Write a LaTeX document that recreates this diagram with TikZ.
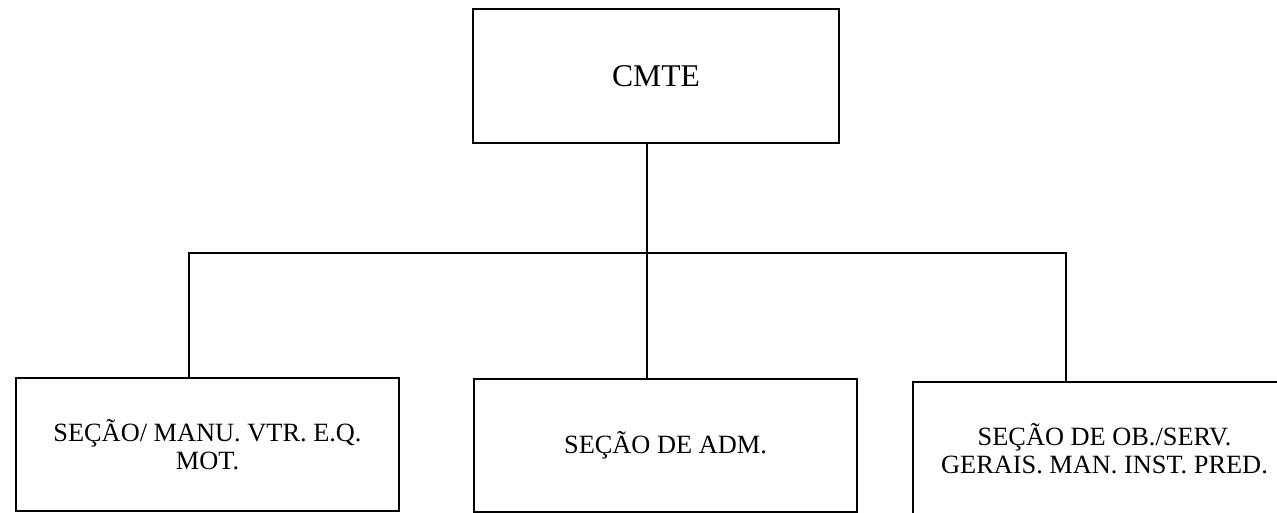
\documentclass[tikz,border=0pt]{standalone}
\usepackage{fontspec}
\setmainfont{Liberation Serif}
\usepackage{tikz}

\begin{document}
\begin{tikzpicture}[x=0.02cm,y=-0.02cm,
          box/.style={draw,rectangle,align=center,inner sep=0pt},
          chefe/.style={box,minimum width=7.32cm,minimum height=2.68cm,font=\fontsize{18}{21}\selectfont},
          secao/.style={box,minimum width=7.66cm,minimum height=2.66cm,font=\fontsize{15}{15.8}\selectfont},
          every path/.style={line width=1.6pt}
        ]
        \useasboundingbox (0,0) rectangle (1277,512);

        %comando
        \node[chefe] (cmte) at (656,76) {CMTE};

        %secoes
        \node[secao] (manut) at (207.5,444.5) {SEÇÃO/ MANU. VTR. E.Q.\\MOT.};
        \node[secao] (adm) at (665.5,445.5) {SEÇÃO DE ADM.};
        \node[secao] (obras) at (1104.5,448.5) {SEÇÃO DE OB./SERV.\\GERAIS. MAN. INST. PRED.};

        %linhas
        \coordinate (bus) at (647,253);
        \coordinate (busl) at (189,253);
        \coordinate (busr) at (1066,253);
        \draw (cmte.south -| bus) -- (bus);
        \draw (manut.north -| busl) |- (busr) -- (obras.north -| busr);
        \draw (bus) -- (adm.north -| bus);
    \end{tikzpicture}
\end{document}
